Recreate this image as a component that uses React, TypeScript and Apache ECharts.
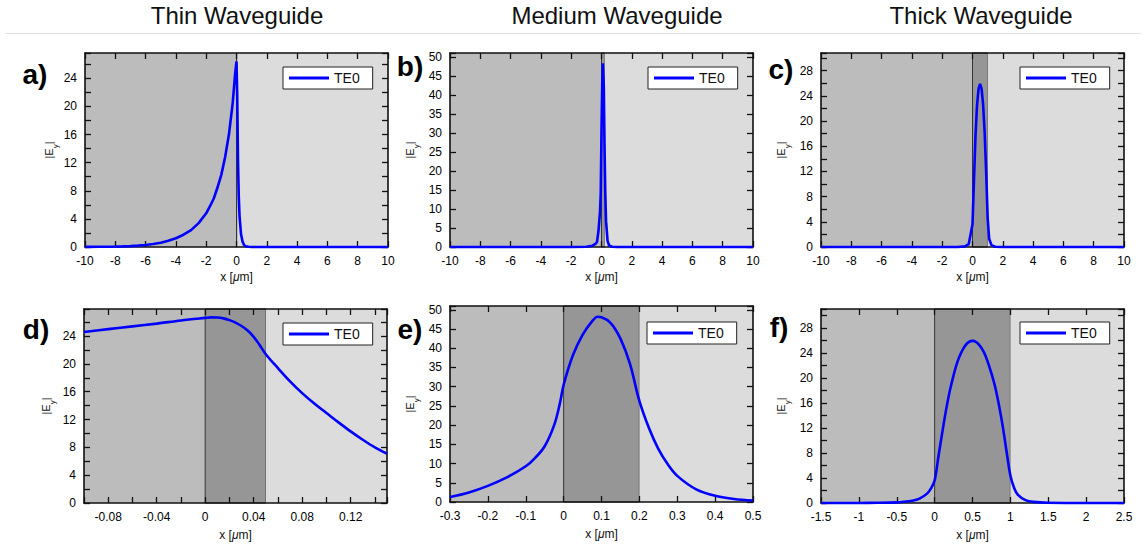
import React, { useEffect, useRef } from 'react';
import * as echarts from 'echarts';

const FONT = '"Liberation Sans", Arial, Helvetica, sans-serif';

const columnTitles = ['Thin Waveguide', 'Medium Waveguide', 'Thick Waveguide'];
const panelLetters = ['a)', 'b)', 'c)', 'd)', 'e)', 'f)'];
const modeName = 'TE0';
const yAxisTitle = '{n||E}{s|y}{n||}';
const xAxisTitle = '{n|x [}{i|μ}{n|m]}';

// waveguide core widths in µm (thin, medium, thick)
const coreWidths = [0.05, 0.2, 1.0];

// a) thin waveguide, full range
const thinWide: number[][] = [
  [-10, 0.02], [-9, 0.03], [-8, 0.06], [-7.5, 0.09], [-7, 0.13], [-6.5, 0.19], [-6, 0.28],
  [-5.5, 0.42], [-5, 0.6], [-4.5, 0.88], [-4, 1.25], [-3.5, 1.75], [-3, 2.4], [-2.5, 3.4],
  [-2, 4.8], [-1.75, 5.8], [-1.5, 6.9], [-1.25, 8.5], [-1, 10.3], [-0.75, 12.8], [-0.5, 16],
  [-0.25, 20.5], [-0.1, 24.4], [0, 26.4], [0.05, 21.3], [0.1, 12.2], [0.15, 7.2], [0.2, 4.4],
  [0.3, 1.8], [0.4, 0.75], [0.5, 0.3], [0.6, 0.12], [0.8, 0.03], [1, 0.01], [2, 0], [10, 0],
];

// b) medium waveguide, full range
const mediumWide: number[][] = [
  [-10, 0], [-4, 0], [-2, 0.01], [-1, 0.06], [-0.6, 0.35], [-0.4, 0.8], [-0.3, 1.3], [-0.2, 4.2],
  [-0.1, 9.2], [-0.05, 14.2], [0, 30.5], [0.05, 43], [0.09, 48.3], [0.15, 42.5], [0.2, 26.5],
  [0.25, 14], [0.3, 6.8], [0.4, 1.6], [0.5, 0.4], [0.7, 0.05], [1, 0.01], [2, 0], [10, 0],
];

// c) thick waveguide, full range
const thickWide: number[][] = [
  [-10, 0], [-2, 0], [-1, 0.01], [-0.5, 0.1], [-0.25, 0.45], [0, 3.6], [0.1, 10.8], [0.2, 17.8],
  [0.3, 22.5], [0.4, 25.1], [0.5, 25.9], [0.6, 25.1], [0.7, 22.6], [0.8, 18.3], [0.9, 12.0],
  [1.0, 4.6], [1.1, 1.3], [1.25, 0.3], [1.5, 0.05], [2, 0], [10, 0],
];

// d) thin waveguide, zoom
const thinZoom: number[][] = [
  [-0.1, 24.6], [-0.08, 25.0], [-0.06, 25.4], [-0.04, 25.8], [-0.02, 26.25], [0, 26.62],
  [0.005, 26.7], [0.01, 26.68], [0.015, 26.55], [0.02, 26.3], [0.025, 25.95], [0.03, 25.45],
  [0.035, 24.8], [0.04, 23.9], [0.045, 22.7], [0.05, 21.4], [0.06, 19.4], [0.07, 17.5],
  [0.08, 15.8], [0.09, 14.3], [0.1, 12.95], [0.11, 11.6], [0.12, 10.3], [0.13, 9.1],
  [0.14, 8.0], [0.15, 7.1],
];

// e) medium waveguide, zoom
const mediumZoom: number[][] = [
  [-0.3, 1.3], [-0.25, 2.5], [-0.2, 4.2], [-0.15, 6.4], [-0.1, 9.3], [-0.075, 11.5],
  [-0.05, 14.5], [-0.025, 20.0], [-0.01, 25.6], [0, 30.5], [0.025, 38.3], [0.05, 43.5],
  [0.075, 47], [0.09, 48.2], [0.1, 48.1], [0.125, 46.5], [0.15, 42.5], [0.175, 36],
  [0.2, 26.3], [0.225, 19.3], [0.25, 13.8], [0.275, 9.8], [0.3, 6.8], [0.35, 3.3],
  [0.4, 1.6], [0.45, 0.8], [0.5, 0.4],
];

// f) thick waveguide, zoom
const thickZoom: number[][] = [
  [-1.5, 0], [-1, 0.01], [-0.75, 0.03], [-0.5, 0.1], [-0.4, 0.2], [-0.3, 0.35], [-0.2, 0.7],
  [-0.1, 1.5], [-0.05, 2.3], [0, 3.6], [0.05, 7.4], [0.1, 11.2], [0.15, 14.8], [0.2, 17.9],
  [0.25, 20.4], [0.3, 22.5], [0.35, 24.0], [0.4, 25.1], [0.45, 25.7], [0.5, 25.9], [0.55, 25.7],
  [0.6, 25.1], [0.65, 24.1], [0.7, 22.6], [0.75, 20.7], [0.8, 18.5], [0.85, 15.6], [0.9, 12.2],
  [0.95, 8.2], [1.0, 4.4], [1.05, 2.4], [1.1, 1.3], [1.2, 0.45], [1.3, 0.18], [1.5, 0.04],
  [2, 0], [2.5, 0],
];

const seriesData = [thinWide, mediumWide, thickWide, thinZoom, mediumZoom, thickZoom];

// layout configuration per panel
const panels = [
  { grid: { left: 85, top: 53, width: 303, height: 194 }, x: [-10, 10, 2, 2], y: [27.6, 2, 4], core: 0, smooth: false, legend: [283, 67], letter: [35, 74], yGap: 19, xGap: 24 },
  { grid: { left: 450, top: 53, width: 303, height: 194 }, x: [-10, 10, 2, 2], y: [51, 5, 5], core: 1, smooth: false, legend: [648, 67], letter: [410, 66], yGap: 30, xGap: 24 },
  { grid: { left: 821, top: 53, width: 303, height: 194 }, x: [-10, 10, 2, 2], y: [30.8, 2, 4], core: 2, smooth: false, legend: [1020, 67], letter: [781, 69], yGap: 30, xGap: 24 },
  { grid: { left: 84, top: 309, width: 303, height: 194 }, x: [-0.1, 0.15, 0.02, 0.04], y: [27.9, 2, 4], core: 0, smooth: true, legend: [283, 323], letter: [36, 329], yGap: 28, xGap: 26 },
  { grid: { left: 450, top: 306, width: 303, height: 196 }, x: [-0.3, 0.5, 0.1, 0.1], y: [51, 5, 5], core: 1, smooth: true, legend: [647, 322], letter: [410, 329], yGap: 30, xGap: 26 },
  { grid: { left: 821, top: 309, width: 303, height: 194 }, x: [-1.5, 2.5, 0.5, 0.5], y: [31, 2, 4], core: 2, smooth: true, legend: [1020, 322], letter: [779, 327], yGap: 30, xGap: 26 },
];

const titleCenters = [237, 617, 981];

const labelFmt = (step: number) => (v: number) => {
  const r = v / step;
  if (Math.abs(r - Math.round(r)) > 1e-6) return '';
  return String(parseFloat(v.toFixed(6)));
};

function buildOption() {
  const axisLine = { show: true, onZero: false, lineStyle: { color: '#111', width: 1.6 } };
  const axisTick = { show: true, inside: true, length: 6, lineStyle: { color: '#111', width: 1.3 } };
  const labelStyle = { fontSize: 12, color: '#000', fontFamily: FONT };

  const grids: any[] = [];
  const xAxes: any[] = [];
  const yAxes: any[] = [];
  const series: any[] = [];
  const legends: any[] = [];
  const graphics: any[] = [];

  panels.forEach((p, i) => {
    const [xMin, xMax, xTick, xLab] = p.x;
    const [yMax, yTick, yLab] = p.y;
    const w = coreWidths[p.core];
    grids.push({ ...p.grid, containLabel: false });

    xAxes.push({
      type: 'value', gridIndex: i, position: 'bottom', min: xMin, max: xMax, interval: xTick, z: 3,
      axisLine, axisTick, splitLine: { show: false },
      axisLabel: { ...labelStyle, margin: 8, formatter: labelFmt(xLab), showMinLabel: true, showMaxLabel: true },
      name: xAxisTitle, nameLocation: 'middle', nameGap: p.xGap,
      nameTextStyle: {
        fontFamily: FONT, color: '#111', fontSize: 12,
        rich: {
          n: { fontFamily: FONT, color: '#111', fontSize: 12 },
          i: { fontFamily: FONT, color: '#111', fontSize: 12, fontStyle: 'italic' },
        },
      },
    });
    xAxes.push({
      type: 'value', gridIndex: i, position: 'top', min: xMin, max: xMax, interval: xTick, z: 3,
      axisLine, axisTick, splitLine: { show: false }, axisLabel: { show: false },
    });
    yAxes.push({
      type: 'value', gridIndex: i, position: 'left', min: 0, max: yMax, interval: yTick, z: 3,
      axisLine, axisTick, splitLine: { show: false },
      axisLabel: { ...labelStyle, margin: 8, formatter: labelFmt(yLab), showMinLabel: true, showMaxLabel: true },
      name: yAxisTitle, nameLocation: 'middle', nameGap: p.yGap, nameRotate: 90,
      nameTextStyle: {
        fontFamily: FONT, color: '#111', fontSize: 11,
        rich: {
          n: { fontFamily: FONT, color: '#111', fontSize: 11, lineHeight: 16, verticalAlign: 'top' },
          s: { fontFamily: FONT, color: '#111', fontSize: 8, lineHeight: 9, verticalAlign: 'bottom' },
        },
      },
    });
    yAxes.push({
      type: 'value', gridIndex: i, position: 'right', min: 0, max: yMax, interval: yTick, z: 3,
      axisLine, axisTick, splitLine: { show: false }, axisLabel: { show: false },
    });

    // background regions (cladding / core / cladding)
    series.push({
      type: 'line', name: 'regions' + i, xAxisIndex: 2 * i, yAxisIndex: 2 * i,
      data: [[xMin, 0]], symbol: 'none', silent: true, z: 1,
      lineStyle: { width: 0 },
      markArea: {
        silent: true, z: 1,
        label: { show: false },
        data: [
          [{ xAxis: xMin, itemStyle: { color: '#bcbcbc', borderWidth: 0 } }, { xAxis: 0 }],
          [{ xAxis: 0, itemStyle: { color: '#969696', borderColor: '#333', borderWidth: 1 } }, { xAxis: w }],
          [{ xAxis: w, itemStyle: { color: '#dcdcdc', borderWidth: 0 } }, { xAxis: xMax }],
        ],
      },
    });

    series.push({
      type: 'line', name: modeName, xAxisIndex: 2 * i, yAxisIndex: 2 * i,
      data: seriesData[i], symbol: 'none', showSymbol: false, clip: false, z: 4,
      smooth: p.smooth ? 0.35 : false, silent: true,
      lineStyle: { color: '#0000ff', width: 2.6 }, itemStyle: { color: '#0000ff' },
    });

    legends.push({
      data: [modeName], left: p.legend[0], top: p.legend[1], orient: 'horizontal',
      icon: 'rect', itemWidth: 40, itemHeight: 3, itemGap: 0, selectedMode: false,
      backgroundColor: '#ffffff', borderColor: '#222', borderWidth: 1, borderRadius: 0,
      padding: [4, 13, 4, 6],
      textStyle: { fontSize: 14, color: '#111', fontFamily: FONT, lineHeight: 14 },
    });

    graphics.push({
      type: 'text', x: p.letter[0], y: p.letter[1], z: 10,
      style: {
        text: panelLetters[i], font: `bold 28px ${FONT}`, fill: '#000',
        align: 'center', verticalAlign: 'middle', textAlign: 'center', textVerticalAlign: 'middle',
      },
    });
  });

  columnTitles.forEach((t, k) => {
    graphics.push({
      type: 'text', x: titleCenters[k], y: 15, z: 10,
      style: {
        text: t, font: `24px ${FONT}`, fill: '#111',
        align: 'center', verticalAlign: 'middle', textAlign: 'center', textVerticalAlign: 'middle',
      },
    });
  });
  graphics.push({
    type: 'line', z: 10,
    shape: { x1: 5, y1: 33.5, x2: 1141, y2: 33.5 },
    style: { stroke: '#e2e2e2', lineWidth: 1 },
  });

  return {
    animation: false,
    backgroundColor: '#ffffff',
    textStyle: { fontFamily: FONT },
    grid: grids,
    xAxis: xAxes,
    yAxis: yAxes,
    legend: legends,
    series,
    graphic: graphics,
  };
}

export default function App() {
  const ref = useRef<HTMLDivElement>(null);
  useEffect(() => {
    if (!ref.current) return;
    const chart = echarts.init(ref.current, null, { renderer: 'svg' });
    chart.setOption(buildOption() as any);
    return () => chart.dispose();
  }, []);
  return (
    <div
      ref={ref}
      style={{ position: 'fixed', left: 0, top: 0, width: 1146, height: 548, background: '#fff' }}
    />
  );
}
